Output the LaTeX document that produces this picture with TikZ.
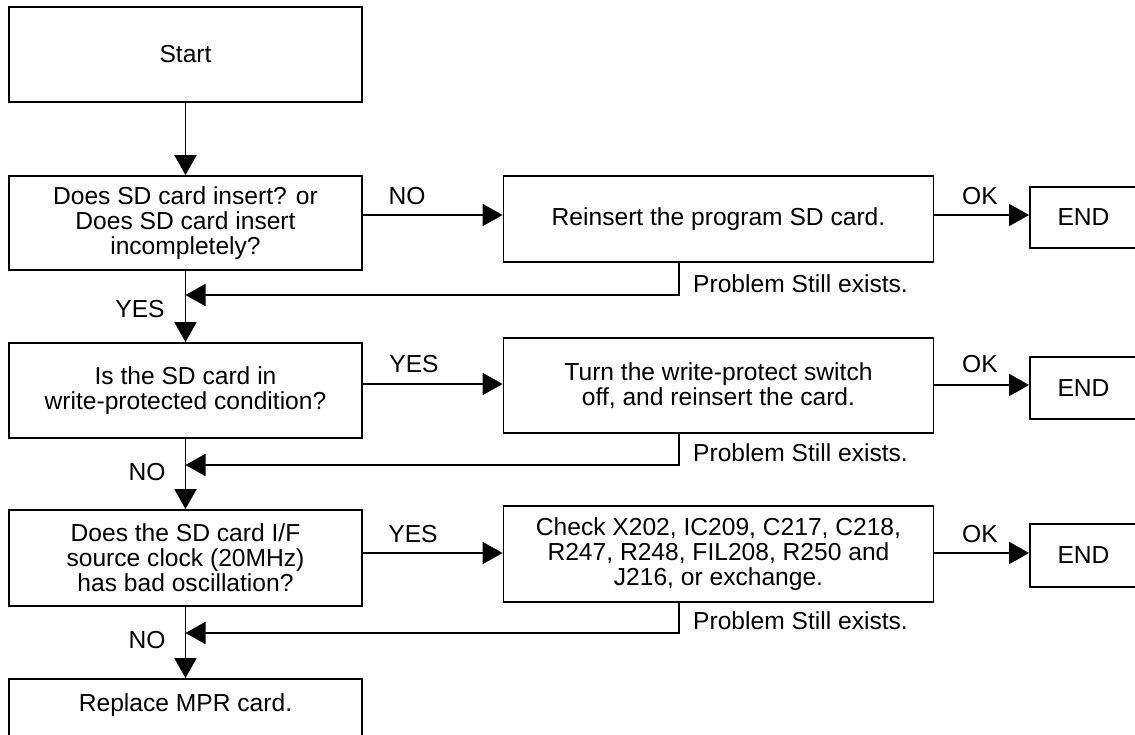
\documentclass[tikz,border=0pt]{standalone}
\usepackage{fontspec}
\setmainfont{Liberation Sans}
\usetikzlibrary{arrows.meta}
\begin{document}
\begin{tikzpicture}[x=1pt,y=-1pt,
  every node/.style={font=\fontsize{24.6}{25}\selectfont},
  box/.style={draw,line width=1.8pt,rectangle,align=center,inner sep=0pt,anchor=center},
  lbl/.style={inner sep=0pt,anchor=center},
  arr/.style={line width=1.8pt,-{Triangle[length=20pt,width=22pt]}},
  ln/.style={line width=1.8pt}]
\useasboundingbox (0,0) rectangle (1135,734);
\clip (0,0) rectangle (1135,734);
% left column
\node[box,minimum width=353pt,minimum height=95pt] (start) at (185.5,54.5) {Start};
\node[box,minimum width=353pt,minimum height=94pt] (q1) at (185.5,223) {Does SD card insert? or\\Does SD card insert\\incompletely?};
\node[box,minimum width=353pt,minimum height=95pt] (q2) at (185.5,390.5) {Is the SD card in\\write-protected condition?};
\node[box,minimum width=353pt,minimum height=96pt] (q3) at (185.5,558) {Does the SD card I/F\\source clock (20MHz)\\has bad oscillation?};
\node[box,minimum width=353pt,minimum height=100pt,text height=0pt,text depth=0pt] (rep) at (185.5,729) {};
\node[lbl] (reptext) at (185.5,705) {Replace MPR card.};
% middle column
\node[box,minimum width=430pt,minimum height=86pt] (r1) at (718.5,219) {Reinsert the program SD card.};
\node[box,minimum width=430pt,minimum height=95pt] (r2) at (718.5,385.5) {Turn the write-protect switch\\off, and reinsert the card.};
\node[box,minimum width=430pt,minimum height=96pt] (r3) at (718.5,554) {Check X202, IC209, C217, C218,\\R247, R248, FIL208, R250 and\\J216, or exchange.};
% END boxes
\node[box,minimum width=107pt,minimum height=61pt] (e1) at (1083.5,217.5) {END};
\node[box,minimum width=107pt,minimum height=62pt] (e2) at (1083.5,388) {END};
\node[box,minimum width=107pt,minimum height=63pt] (e3) at (1083.5,555.5) {END};
% vertical arrows
\draw[arr] (start.south) -- (q1.north);
\draw[arr] (q1.south) -- (q2.north);
\draw[arr] (q2.south) -- (q3.north);
\draw[arr] (q3.south) -- (rep.north);
% horizontal arrows
\draw[arr] (q1.east |- 0,215) -- (r1.west |- 0,215);
\draw[arr] (q2.east |- 0,384) -- (r2.west |- 0,384);
\draw[arr] (q3.east |- 0,553) -- (r3.west |- 0,553);
\draw[arr] (r1.east |- 0,215) -- (e1.west |- 0,215);
\draw[arr] (r2.east |- 0,385) -- (e2.west |- 0,385);
\draw[arr] (r3.east |- 0,553) -- (e3.west |- 0,553);
% feedback
\draw[arr] (r1.south -| 679,0) -- (679,295) -- (q1.south |- 0,295);
\draw[arr] (r2.south -| 679,0) -- (679,465) -- (q2.south |- 0,465);
\draw[arr] (r3.south -| 679,0) -- (679,633) -- (q3.south |- 0,633);
% labels
\node[lbl] (no1) at (407,196) {NO};
\node[lbl] (yes2) at (414,364) {YES};
\node[lbl] (yes3) at (413,534) {YES};
\node[lbl] (ok1) at (980,196) {OK};
\node[lbl] (ok2) at (980,364) {OK};
\node[lbl] (ok3) at (980,534) {OK};
\node[lbl] (yes1) at (140,309) {YES};
\node[lbl] (no2) at (147,472) {NO};
\node[lbl] (no3) at (147,640) {NO};
\node[lbl,anchor=west] (p1) at (693,284) {Problem Still exists.};
\node[lbl,anchor=west] (p2) at (693,453) {Problem Still exists.};
\node[lbl,anchor=west] (p3) at (693,621) {Problem Still exists.};
\end{tikzpicture}
\end{document}
